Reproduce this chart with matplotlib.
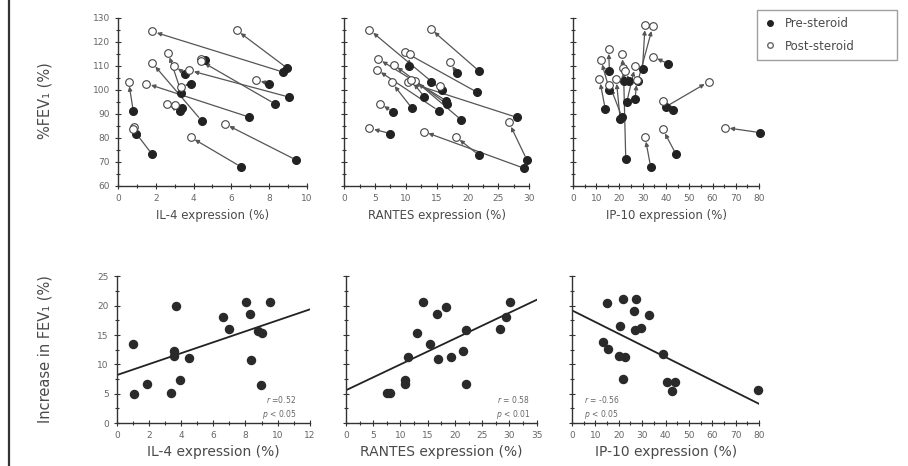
import numpy as np
import matplotlib
matplotlib.use("Agg")
import matplotlib.pyplot as plt
from matplotlib.lines import Line2D
from matplotlib.ticker import MultipleLocator

# ---- data ----
# top row: pre-steroid (filled) -> post-steroid (open), %FEV1
il4_pre_x = [0.81, 0.97, 1.79, 3.27, 3.40, 3.36, 3.54, 3.84, 4.42, 4.60, 6.50, 6.96, 8.00, 8.30, 8.73, 8.94, 9.04, 9.43]
il4_pre_y = [91.0, 81.7, 73.3, 91.0, 92.5, 98.7, 106.7, 102.6, 87.2, 112.3, 68.0, 88.6, 102.6, 94.2, 107.4, 109.1, 97.0, 70.8]
il4_post_x = [0.56, 0.85, 0.80, 2.57, 3.00, 2.65, 2.96, 3.31, 1.81, 4.37, 3.84, 1.50, 7.31, 4.37, 1.81, 6.28, 3.77, 5.66]
il4_post_y = [103.4, 84.5, 83.5, 94.1, 93.5, 115.4, 110.1, 101.2, 111.2, 112.9, 80.3, 102.6, 104.0, 112.0, 124.3, 124.8, 108.1, 85.8]

rantes_pre_x = [7.5, 7.85, 21.9, 18.3, 21.6, 15.8, 28.0, 29.2, 21.8, 29.6, 19.0, 16.5, 16.6, 15.3, 11.0, 13.0, 14.0, 10.5]
rantes_pre_y = [81.8, 90.9, 107.7, 106.9, 98.9, 99.9, 88.5, 67.3, 72.9, 70.8, 87.4, 95.5, 94.1, 91.3, 92.3, 97.1, 103.1, 110.1]
rantes_post_x = [4.1, 5.8, 14.0, 17.1, 9.8, 4.1, 10.4, 12.9, 18.1, 26.7, 11.5, 5.5, 8.0, 5.3, 7.7, 10.8, 15.5, 10.6]
rantes_post_y = [84.0, 94.3, 125.4, 111.5, 115.7, 125.0, 103.1, 82.6, 80.4, 86.4, 103.8, 112.9, 110.5, 108.4, 103.1, 104.0, 101.7, 114.8]

ip10_pre_x = [13.9, 15.7, 15.7, 20.3, 21.0, 22.7, 22.0, 23.1, 29.9, 27.9, 33.4, 40.0, 43.1, 41.0, 44.3, 80.3, 24.3, 26.7]
ip10_pre_y = [92.0, 107.7, 99.9, 87.8, 88.8, 71.2, 103.5, 94.8, 108.7, 103.5, 67.9, 93.0, 91.6, 110.8, 73.2, 82.2, 103.5, 96.2]
ip10_post_x = [11.4, 15.3, 12.0, 18.6, 15.7, 21.7, 21.1, 26.7, 31.0, 34.3, 31.0, 58.4, 38.9, 34.3, 38.6, 65.3, 22.5, 27.5]
ip10_post_y = [104.5, 117.0, 112.5, 104.5, 102.1, 109.1, 114.7, 109.7, 126.8, 126.4, 80.4, 103.4, 95.2, 113.8, 83.6, 84.3, 108.0, 104.0]

# bottom row: increase in FEV1 vs expression
il4_x = [1.0, 1.04, 1.87, 3.38, 3.53, 3.53, 3.65, 3.9, 4.46, 6.6, 7.0, 8.05, 8.3, 8.36, 8.78, 9.05, 8.94, 9.5]
il4_inc = [13.5, 5.0, 6.6, 5.1, 12.2, 11.4, 19.9, 7.3, 11.1, 18.0, 16.1, 20.7, 18.6, 10.8, 15.7, 15.3, 6.5, 20.7]
rantes_x = [7.6, 8.0, 10.9, 10.9, 11.3, 13.1, 14.2, 15.4, 16.8, 16.95, 18.4, 19.2, 21.5, 22.0, 22.0, 28.2, 29.3, 30.1]
rantes_inc = [5.1, 5.2, 7.3, 6.7, 11.25, 15.3, 20.7, 13.5, 18.6, 10.9, 19.8, 11.2, 12.2, 15.8, 6.7, 16.0, 18.1, 20.7]
ip10_x = [14.9, 22.0, 27.5, 26.3, 33.1, 20.6, 27.0, 29.4, 13.2, 15.2, 19.9, 22.8, 21.8, 38.8, 40.5, 44.1, 42.7, 79.7]
ip10_inc = [20.4, 21.2, 21.2, 19.1, 18.5, 16.6, 15.8, 16.2, 13.9, 12.7, 11.5, 11.2, 7.6, 11.8, 7.0, 7.0, 5.5, 5.7]

# regression lines (intercept, slope) and stats text
fit_il4 = (8.2, 0.93)
fit_rantes = (5.6, 0.44)
fit_ip10 = (19.2, -0.199)
stat_il4 = ["$r$ =0.52", "$p$ < 0.05"]
stat_rantes = ["$r$ = 0.58", "$p$ < 0.01"]
stat_ip10 = ["$r$ = -0.56", "$p$ < 0.05"]

xlabels = ["IL-4 expression (%)", "RANTES expression (%)", "IP-10 expression (%)"]

TXT = "#4a4a4a"
plt.rcParams["font.family"] = "DejaVu Sans"

fig = plt.figure(figsize=(9.08, 4.66), dpi=100)


def style_axes(ax, xmax, xmaj, ymin, ymax, ymaj):
    for s in ["top", "right"]:
        ax.spines[s].set_visible(False)
    for s in ["left", "bottom"]:
        ax.spines[s].set_color("#333333")
        ax.spines[s].set_linewidth(1.0)
    ax.set_xlim(0, xmax)
    ax.set_ylim(ymin, ymax)
    ax.xaxis.set_major_locator(MultipleLocator(xmaj))
    ax.xaxis.set_minor_locator(MultipleLocator(xmaj / 2))
    ax.yaxis.set_major_locator(MultipleLocator(ymaj))
    ax.yaxis.set_minor_locator(MultipleLocator(ymaj / 2))
    ax.tick_params(which="both", direction="inout", color="#333333", width=0.8, labelsize=6.5, labelcolor="#666666", pad=4)
    ax.tick_params(which="major", length=4)
    ax.tick_params(which="minor", length=3)


def top_panel(rect, pre_x, pre_y, post_x, post_y, xmax, xmaj, show_ylabels):
    ax = fig.add_axes(rect)
    style_axes(ax, xmax, xmaj, 60, 130, 10)
    for x0, y0, x1, y1 in zip(pre_x, pre_y, post_x, post_y):
        ax.annotate("", xy=(x1, y1), xytext=(x0, y0),
                    arrowprops=dict(arrowstyle="-|>", color="#555555", lw=0.9,
                                    shrinkA=3, shrinkB=3.5, mutation_scale=6))
    ax.plot(pre_x, pre_y, "o", color="#222222", ms=5.5, zorder=3, clip_on=False)
    ax.plot(post_x, post_y, "o", mfc="white", mec="#444444", mew=0.8, ms=5.5, zorder=4, clip_on=False)
    if not show_ylabels:
        ax.set_yticklabels([])
    return ax


def bottom_panel(rect, x, y, fit, xmax, xmaj, stats, stat_pos, show_ylabels):
    ax = fig.add_axes(rect)
    style_axes(ax, xmax, xmaj, 0, 25, 5)
    xs = np.array([0, xmax])
    ax.plot(xs, fit[0] + fit[1] * xs, color="#222222", lw=1.3, zorder=2)
    ax.plot(x, y, "o", color="#2a2a2a", ms=5.8, zorder=3, clip_on=False)
    ha, xf = stat_pos
    ax.text(xf, 0.135, stats[0], transform=ax.transAxes, ha=ha, fontsize=5.5, color="#666666")
    ax.text(xf, 0.045, stats[1], transform=ax.transAxes, ha=ha, fontsize=5.5, color="#666666")
    if not show_ylabels:
        ax.set_yticklabels([])
    return ax


# top row
t1 = top_panel([0.130, 0.601, 0.208, 0.361], il4_pre_x, il4_pre_y, il4_post_x, il4_post_y, 10, 2, True)
t2 = top_panel([0.379, 0.601, 0.204, 0.361], rantes_pre_x, rantes_pre_y, rantes_post_x, rantes_post_y, 30, 5, False)
t3 = top_panel([0.631, 0.601, 0.205, 0.361], ip10_pre_x, ip10_pre_y, ip10_post_x, ip10_post_y, 80, 10, False)

# bottom row
b1 = bottom_panel([0.129, 0.092, 0.212, 0.315], il4_x, il4_inc, fit_il4, 12, 2, stat_il4, ("right", 0.93), True)
b2 = bottom_panel([0.381, 0.092, 0.210, 0.315], rantes_x, rantes_inc, fit_rantes, 35, 5, stat_rantes, ("right", 0.965), False)
b3 = bottom_panel([0.630, 0.092, 0.206, 0.315], ip10_x, ip10_inc, fit_ip10, 80, 10, stat_ip10, ("left", 0.066), False)

for ax, lab in zip([t1, t2, t3], xlabels):
    ax.set_xlabel(lab, fontsize=8.5, color=TXT, labelpad=4)
for ax, lab in zip([b1, b2, b3], xlabels):
    ax.set_xlabel(lab, fontsize=10, color=TXT, labelpad=3)

fig.text(0.050, 0.785, "%FEV\u2081 (%)", rotation=90, ha="center", va="center", fontsize=10.5, color=TXT)
fig.text(0.050, 0.250, "Increase in FEV\u2081 (%)", rotation=90, ha="center", va="center", fontsize=10.5, color=TXT)

# legend, stretched to the width of the boxed key in the original
handles = [Line2D([], [], ls="", marker="o", color="#222222", ms=4),
           Line2D([], [], ls="", marker="o", mfc="white", mec="#666666", ms=4)]
fig.legend(handles, ["Pre-steroid", "Post-steroid"], loc="upper left",
           bbox_to_anchor=(0.8337, 0.8712, 0.1542, 0.1073), mode="expand",
           frameon=True, fancybox=False, edgecolor="#888888", fontsize=8.5,
           labelcolor=TXT, handletextpad=0.8, borderpad=0.6, labelspacing=0.8,
           handlelength=1.0, borderaxespad=0)

# left border of the scanned figure
fig.add_artist(Line2D([0.0094, 0.0094], [0, 1], color="#333333", lw=1.6, transform=fig.transFigure))

fig.savefig("out.png", dpi=100, facecolor="white")
